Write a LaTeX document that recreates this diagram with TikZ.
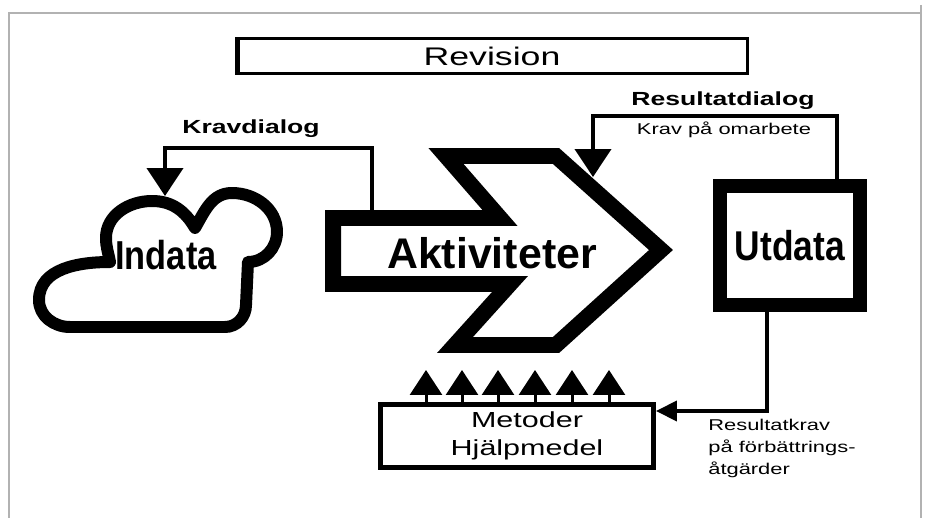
\documentclass[tikz,border=0pt]{standalone}
\usepackage{fontspec}
\setmainfont{Liberation Sans}
\newfontfamily\widesans[FakeStretch=1.4]{Liberation Sans}
\newfontfamily\narrowsans[FakeStretch=0.85]{Liberation Sans}
\usetikzlibrary{arrows.meta}

\begin{document}
\begin{tikzpicture}[x=0.02cm,y=0.02cm,
  conn/.style={line width=0.08cm},
  heavy/.style={line width=#1,line join=miter},
  dialog/.style={font=\widesans\bfseries\fontsize{10.8}{13}\selectfont},
  note/.style={font=\widesans\fontsize{8.9}{12.5}\selectfont},
  bigtip/.style={-{Triangle[width=0.72cm,length=0.56cm]}},
  uptip/.style={-{Triangle[width=0.64cm,length=0.5cm]}},
  smalltip/.style={-{Triangle[width=0.4cm,length=0.42cm]}}]
\useasboundingbox (0,0) rectangle (927,518);
\draw[gray!60,line width=0.04cm] (8,505) -- (922,505);
\draw[gray!60,line width=0.04cm] (9,505) -- (9,0);
\draw[gray!60,line width=0.04cm] (921,513) -- (921,0);

\node[draw,line width=0.05cm,minimum width=10.22cm,minimum height=0.7cm,
  font=\widesans\fontsize{14.5}{17}\selectfont] (rev) at (492,462) {Revision};
\fill (rev.south west) rectangle ++(5,37);

% Indata
\draw[heavy=0.24cm,line join=round] (110,256) to[out=180,in=90] (39,218)
  to[out=270,in=180] (70,191) -- (225,191) to[out=0,in=270] (246,213)
  -- (248,256) to[out=0,in=270] (277,286) to[out=90,in=0] (232,325)
  to[out=180,in=60] (195,290) to[out=120,in=0] (152,317)
  to[out=180,in=90] (106,280) to[out=270,in=100] (110,256) -- cycle;
\node[font=\narrowsans\bfseries\fontsize{23}{26}\selectfont] (indata) at (166,263) {Indata};

% Aktiviteter
\draw[heavy=0.32cm] (333,300) -- (500,300) -- (446,362) -- (556,362) -- (661,268)
  -- (556,173) -- (455,173) -- (510,234) -- (333,234) -- cycle;
\node[font=\bfseries\fontsize{24.4}{28}\selectfont] (akt) at (492,265) {Aktiviteter};

\node[draw,heavy=0.28cm,minimum width=2.8cm,minimum height=2.38cm,
  font=\narrowsans\bfseries\fontsize{23.7}{27}\selectfont] (utd) at (790,272.5) {Utdata};

\node[draw,line width=0.1cm,minimum width=5.46cm,minimum height=1.26cm,
  label={[xshift=0.2cm,align=center,font=\widesans\fontsize{12.4}{15.9}\selectfont]center:Metoder\\Hjälpmedel}]
  (met) at (517,82) {};

\coordinate (armtop) at (372,308);
\coordinate (cloudtop) at (165,322);
\coordinate (aktedge) at (593,341);

\draw[conn,bigtip] (armtop) |- (165,370) -- (cloudtop);
\node[dialog] (kravdialog) at (251,389) {Kravdialog};

\draw[conn,bigtip] (837,0 |- utd.north) |- (593,402) -- (aktedge);
\node[dialog] (resdialog) at (723,417) {Resultatdialog};
\node[note] (omarbete) at (724,388) {Krav på omarbete};

\draw[conn,smalltip] (767,0 |- utd.south) |- (met.east |- 0,107);
\node[note,anchor=north west,align=left,inner sep=0pt] (reskrav) at (708,99)
  {Resultatkrav\\på förbättrings-\\åtgärder};

\foreach \x in {426,462,498,535,572,609}
  \draw[line width=0.06cm,uptip] (\x,0 |- met.north) -- (\x,148);
\end{tikzpicture}
\end{document}
